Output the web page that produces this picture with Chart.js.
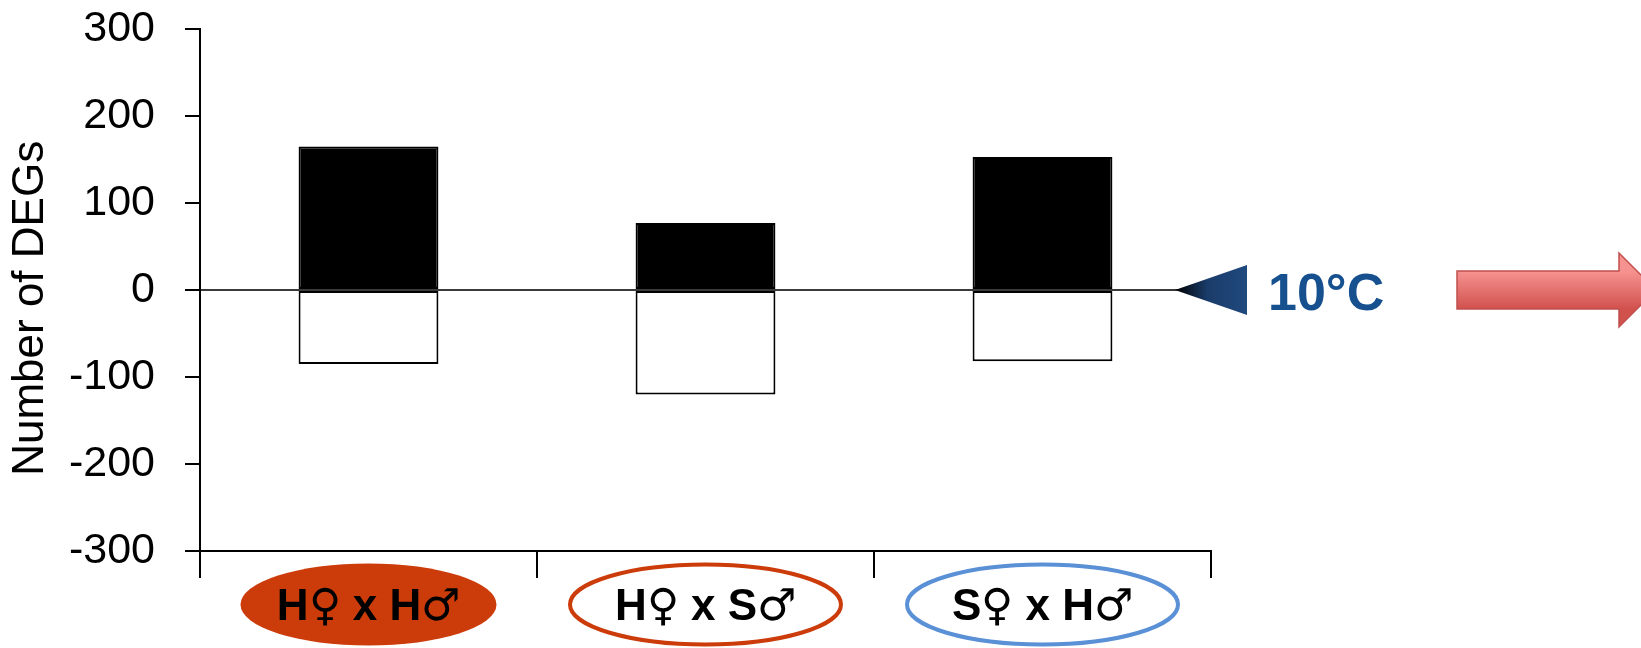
<!DOCTYPE html>
<html><head><meta charset="utf-8">
<script src="https://cdn.jsdelivr.net/npm/chart.js@4"></script>
<style>
html,body{margin:0;padding:0;background:#fff}#wrap{width:1641px;height:648px}
@font-face{font-family:'GSym';src:local('DejaVu Sans'),local('DejaVuSans');unicode-range:U+2640,U+2642;font-weight:100 900;}
</style>
</head><body><div id="wrap"><canvas id="c" width="1641" height="648"></canvas></div>
<script>
// ---- data ----
const categories = ['H♀ x H♂', 'H♀ x S♂', 'S♀ x H♂'];
const upregulated = [165, 77, 153];
const downregulated = [-85, -120, -82];
const yTicks = [-300, -200, -100, 0, 100, 200, 300];
const yTitle = 'Number of DEGs';
const temperatureLabel = '10°C';

// ---- styles for the category badges ----
const ellipseFill = ['#cc3c0a', '#ffffff', '#ffffff'];
const ellipseStroke = [null, '#cc3c0a', '#5a90d6'];
const ellipseRx = [128, 135.5, 135.5];
const ellipseRy = [41, 40, 40];

const FONT = "'Liberation Sans', Arial, sans-serif";
const LABEL_FONT = "GSym, 'Liberation Sans Narrow', 'Arial Narrow', 'Liberation Sans', sans-serif";
Chart.defaults.font.family = FONT;

const decor = {
  id: 'decor',
  beforeDraw(chart) {
    const ctx = chart.ctx, xs = chart.scales.x;
    ctx.save();
    ctx.fillStyle = '#fff';
    ctx.fillRect(0, 0, chart.width, chart.height);
    const cy = xs.bottom - 43.5;
    categories.forEach((c, i) => {
      const cx = xs.getPixelForTick(i);
      ctx.beginPath();
      ctx.ellipse(cx, cy, ellipseRx[i], ellipseRy[i], 0, 0, Math.PI * 2);
      ctx.fillStyle = ellipseFill[i];
      ctx.fill();
      if (ellipseStroke[i]) {
        ctx.lineWidth = 4;
        ctx.strokeStyle = ellipseStroke[i];
        ctx.stroke();
      }
    });
    ctx.restore();
  },
  afterDraw(chart) {
    const ctx = chart.ctx, ys = chart.scales.y;
    const y0 = ys.getPixelForValue(0);
    const r = chart.chartArea.right;
    ctx.save();
    // blue triangle pointer
    const tipX = r - 36, baseX = r + 36, half = 25;
    const g = ctx.createLinearGradient(tipX, 0, baseX, 0);
    g.addColorStop(0, '#000000');
    g.addColorStop(0.45, '#1a3c6a');
    g.addColorStop(1, '#20497e');
    ctx.beginPath();
    ctx.moveTo(tipX, y0);
    ctx.lineTo(baseX, y0 - half);
    ctx.lineTo(baseX, y0 + half);
    ctx.closePath();
    ctx.fillStyle = g;
    ctx.fill();
    // temperature text
    ctx.font = 'bold 52px ' + FONT;
    ctx.fillStyle = '#16508f';
    ctx.textBaseline = 'alphabetic';
    ctx.textAlign = 'left';
    ctx.fillText(temperatureLabel, r + 57, y0 + 20);
    // red block arrow
    const sx = r + 246, hx = r + 408, tx = r + 445, sh = 19, hh = 37;
    const rg = ctx.createLinearGradient(0, y0 - sh, 0, y0 + sh);
    rg.addColorStop(0, '#f69391');
    rg.addColorStop(1, '#d1514d');
    ctx.beginPath();
    ctx.moveTo(sx, y0 - sh);
    ctx.lineTo(hx, y0 - sh);
    ctx.lineTo(hx, y0 - hh);
    ctx.lineTo(tx, y0);
    ctx.lineTo(hx, y0 + hh);
    ctx.lineTo(hx, y0 + sh);
    ctx.lineTo(sx, y0 + sh);
    ctx.closePath();
    ctx.fillStyle = rg;
    ctx.fill();
    ctx.lineWidth = 1.5;
    ctx.strokeStyle = '#c0504d';
    ctx.stroke();
    ctx.restore();
  }
};

function build() {
  new Chart(document.getElementById('c'), {
    type: 'bar',
    data: {
      labels: categories,
      datasets: [
        { label: 'Up', data: upregulated, backgroundColor: '#000', borderColor: '#000', borderWidth: 2, borderSkipped: false },
        { label: 'Down', data: downregulated, backgroundColor: '#fff', borderColor: '#000', borderWidth: 2, borderSkipped: false }
      ]
    },
    options: {
      responsive: false,
      animation: false,
      layout: { padding: { top: 29, right: 430, left: 0, bottom: 0 } },
      plugins: { legend: { display: false }, tooltip: { enabled: false } },
      datasets: { bar: { barPercentage: 0.415, categoryPercentage: 1 } },
      scales: {
        x: {
          stacked: true,
          offset: true,
          grid: { offset: true, drawOnChartArea: false, color: '#000', lineWidth: 2, tickLength: 27 },
          border: { color: '#000', width: 2 },
          ticks: { color: '#000', padding: 3, maxRotation: 0, autoSkip: false,
                   font: { family: LABEL_FONT, size: 44, weight: 'bold' } },
          afterFit(s) { s.height = 97; s.paddingLeft = 0; s.paddingRight = 0; }
        },
        y: {
          stacked: true,
          min: -300,
          max: 300,
          afterBuildTicks(s) { s.ticks = yTicks.map(v => ({ value: v })); },
          grid: {
            color: c => (c.tick && c.tick.value === 0) ? '#3a3a3a' : 'rgba(0,0,0,0)',
            lineWidth: 2, tickColor: '#000', tickWidth: 2, tickLength: 15
          },
          border: { color: '#000', width: 2 },
          ticks: { color: '#000', padding: 30, font: { size: 43 } },
          title: { display: true, text: yTitle + '   ', color: '#000', font: { size: 44 }, padding: { top: 4, bottom: 0 } },
          afterFit(s) { s.width = 200; s.paddingTop = 0; s.paddingBottom = 0; }
        }
      }
    },
    plugins: [decor]
  });
}
Promise.all([
  document.fonts.load("bold 44px GSym", "♀♂"),
  document.fonts.load("44px GSym", "♀♂")
]).catch(() => {}).then(build, build);
</script>
</body></html>
